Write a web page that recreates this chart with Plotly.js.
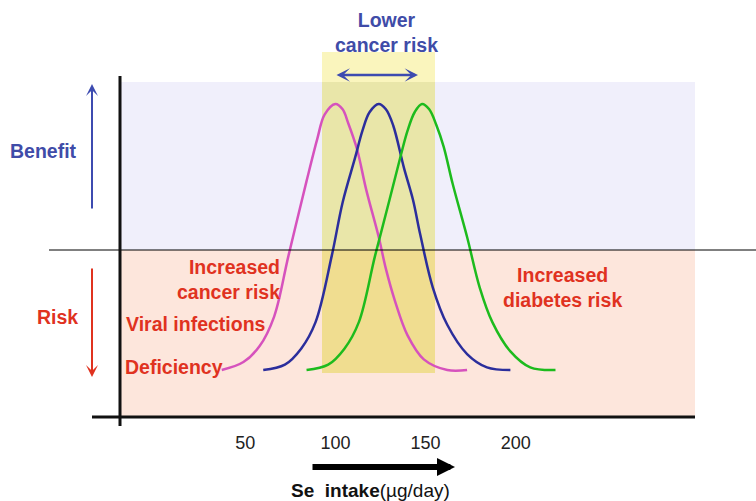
<!DOCTYPE html>
<html>
<head>
<meta charset="utf-8">
<script src="https://cdn.plot.ly/plotly-3.0.1.min.js"></script>
<style>html,body{margin:0;padding:0;background:#fff;}#chart{width:756px;height:501px;}</style>
</head>
<body>
<div id="chart"></div>
<script>
// Se intake (µg/day) vs. relative effect (0 = baseline, 100 = peak)
const seleniumMagentaX = [37,49,58,66,74,84,90,94,100,104,107,112,117,124,128,133,140,149,162,173];
const seleniumMagentaY = [0,3,9,20,43,71,87,96,100,98,93,83,68,50,38,26,13,4,0,0];
const seleniumBlueX = [60,72,81,89,98,104,111,115,119,124,128,132,138,143,147,154,162,173,184,197];
const seleniumBlueY = [0,2,8,18,43,63,80,90,97,100,98,92,76,64,51,31,17,6,1,0];
const seleniumGreenX = [84,96,105,113,122,130,136,140,144,148,152,156,160,165,173,180,187,197,208,222];
const seleniumGreenY = [0,2,8,18,43,64,80,90,97,100,98,92,84,70,50,31,18,7,1,0];

const tickValues = [50, 100, 150, 200];
const tickLabels = ["50", "100", "150", "200"];

// pixel -> data helpers for decoration placement
const X = p => (p - 155) / 1.804;
const Y = p => (370 - p) / 2.66;

const FONT = "Arial, 'Liberation Sans', sans-serif";
const BLUE_TXT = "#3f4ca8";
const RED_TXT = "#e0321f";

const traces = [
  {x: seleniumMagentaX, y: seleniumMagentaY, mode: "lines", line: {color: "#d652bd", width: 2.5, shape: "spline", smoothing: 1}, hoverinfo: "skip"},
  {x: seleniumBlueX, y: seleniumBlueY, mode: "lines", line: {color: "#2b2e9c", width: 2.5, shape: "spline", smoothing: 1}, hoverinfo: "skip"},
  {x: seleniumGreenX, y: seleniumGreenY, mode: "lines", line: {color: "#1dbb1d", width: 2.5, shape: "spline", smoothing: 1}, hoverinfo: "skip"}
];

const rect = (x0, x1, y0, y1, color) => ({type: "rect", xref: "x", yref: "y", x0: X(x0), x1: X(x1), y0: Y(y0), y1: Y(y1), fillcolor: color, line: {width: 0}, layer: "below"});
const seg = (x0, y0, x1, y1, color, w) => ({type: "line", xref: "x", yref: "y", x0: X(x0), y0: Y(y0), x1: X(x1), y1: Y(y1), line: {color: color, width: w}, layer: "above"});

const shapes = [
  rect(120, 695, 82, 250, "#f0effb"),
  rect(120, 695, 250, 416, "#fde6dc"),
  rect(322, 435, 52, 82, "#faf5bd"),
  rect(322, 435, 82, 250, "#e9e6a9"),
  rect(322, 435, 250, 373, "#f0dd90"),
  seg(49, 250, 756, 250, "#000", 1),
  seg(120, 76, 120, 426, "#111", 3),
  seg(92, 417, 695, 417, "#111", 3)
];

const txt = (text, px, py, color, xanchor, align, size) => ({
  text: text, xref: "x", yref: "y", x: X(px), y: Y(py), showarrow: false,
  xanchor: xanchor || "center", yanchor: "middle", align: align || "center",
  font: {family: FONT, size: size || 19.5, color: color}
});

const arrow = (x0, y0, x1, y1, color, w, head, size, both) => ({
  text: "", xref: "x", yref: "y", axref: "x", ayref: "y",
  x: X(x1), y: Y(y1), ax: X(x0), ay: Y(y0), showarrow: true,
  arrowcolor: color, arrowwidth: w, arrowhead: head, arrowsize: size,
  arrowside: both ? "end+start" : "end", startarrowhead: head, startarrowsize: size,
  standoff: 0, startstandoff: 0
});

const annotations = [
  txt("<b>Lower<br>cancer risk</b>", 386, 32, BLUE_TXT),
  txt("<b>Benefit</b>", 43, 151, BLUE_TXT),
  txt("<b>Risk</b>", 57, 317, RED_TXT),
  txt("<b>Increased<br>cancer risk</b>", 282, 279, RED_TXT, "right", "right"),
  txt("<b>Viral infections</b>", 268, 324, RED_TXT, "right", "right"),
  txt("<b>Deficiency</b>", 123, 367, RED_TXT, "left", "left"),
  txt("<b>Increased<br>diabetes risk</b>", 562, 287, RED_TXT),
  txt("<b>Se&nbsp; intake</b>(µg/day)", 370, 490, "#111", "center", "center", 19),
  arrow(92, 210, 92, 84, "#3d4bb0", 2, 3, 1, false),
  arrow(92, 267, 92, 377, "#e0321f", 2, 3, 1, false),
  arrow(335, 75, 418, 75, "#3d4bb0", 2.5, 3, 0.9, true),
  arrow(311, 467, 455, 467, "#000", 6, 2, 0.6, false)
];

const layout = {
  width: 756, height: 501,
  margin: {l: 0, r: 0, t: 0, b: 0, pad: 0},
  paper_bgcolor: "#ffffff", plot_bgcolor: "rgba(0,0,0,0)",
  showlegend: false,
  xaxis: {
    range: [X(0), X(756)], anchor: "free", position: 1 - 430 / 501,
    tickvals: tickValues, ticktext: tickLabels, ticks: "", showline: false,
    showgrid: false, zeroline: false, fixedrange: true,
    tickfont: {family: FONT, size: 18, color: "#222"}
  },
  yaxis: {range: [Y(501), Y(0)], visible: false, showgrid: false, zeroline: false, fixedrange: true},
  shapes: shapes,
  annotations: annotations
};

Plotly.newPlot("chart", traces, layout, {staticPlot: true, displayModeBar: false});
</script>
</body>
</html>
